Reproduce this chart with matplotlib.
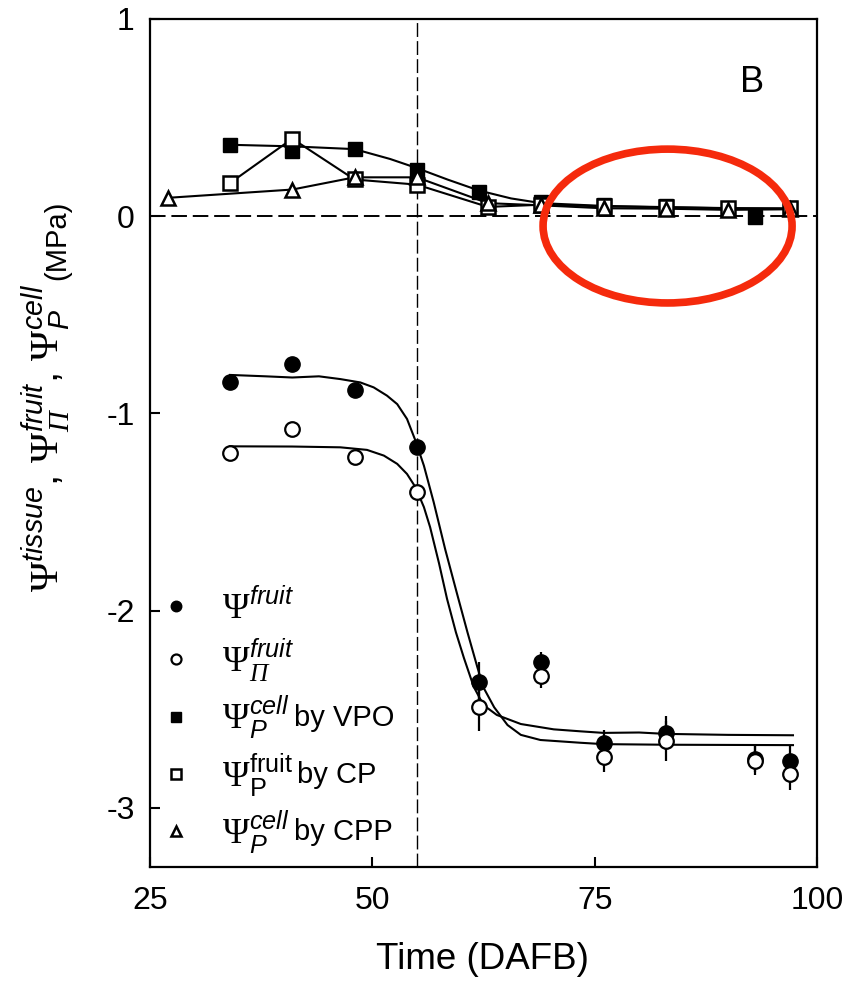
import numpy as np
import matplotlib
matplotlib.use("Agg")
import matplotlib.pyplot as plt
from matplotlib.lines import Line2D
from matplotlib.patches import Ellipse

plt.rcParams['font.family'] = ['Liberation Sans', 'DejaVu Sans']
plt.rcParams['mathtext.fontset'] = 'custom'
plt.rcParams['mathtext.rm'] = 'Liberation Serif'
plt.rcParams['mathtext.it'] = 'Liberation Sans:italic'
plt.rcParams['mathtext.sf'] = 'Liberation Sans'
plt.rcParams['mathtext.cal'] = 'Liberation Serif:italic'
plt.rcParams['axes.unicode_minus'] = False

# water potential of whole fruit and osmotic potential (circles)
days_fruit = [34, 41, 48, 55, 62, 69, 76, 83, 93, 97]
psi_fruit = [-0.84, -0.75, -0.88, -1.17, -2.36, -2.26, -2.67, -2.62, -2.75, -2.76]
psi_fruit_err = [0, 0, 0, 0, 0.10, 0.05, 0.065, 0.085, 0.07, 0.08]
psi_pi = [-1.20, -1.08, -1.22, -1.40, -2.49, -2.33, -2.74, -2.66, -2.76, -2.83]
psi_pi_err = [0, 0, 0, 0, 0.12, 0.06, 0.08, 0.10, 0.075, 0.08]

# fitted curves
fit_fruit_x = [34, 38, 41, 44, 46.4, 48.65, 50.15, 51.65, 52.8, 53.9, 54.85, 55.8,
               56.9, 58.2, 59.5, 60.7, 61.8, 62.5, 63.7, 65.2, 66.7, 68.9, 73.4,
               76, 83, 90, 97.3]
fit_fruit_y = [-0.805, -0.812, -0.818, -0.812, -0.826, -0.843, -0.868, -0.91, -0.953,
               -1.028, -1.138, -1.265, -1.45, -1.69, -1.91, -2.11, -2.285, -2.39,
               -2.49, -2.58, -2.63, -2.656, -2.67, -2.677, -2.68, -2.681, -2.682]
fit_pi_x = [34, 41, 46.4, 49.4, 51.3, 52.8, 53.9, 54.85, 55.8, 56.5, 57.5, 58.4,
            59.4, 60.3, 61.4, 62.5, 64, 66.7, 70.4, 73.4, 76, 80, 83, 90, 97.3]
fit_pi_y = [-1.167, -1.168, -1.172, -1.185, -1.214, -1.256, -1.307, -1.374, -1.475,
            -1.577, -1.76, -1.94, -2.11, -2.24, -2.386, -2.479, -2.529, -2.575,
            -2.602, -2.612, -2.62, -2.618, -2.625, -2.63, -2.632]

# turgor pressure series (squares / triangles)
days_vpo = [34, 41, 48, 55, 62, 69, 76, 83, 93, 97]
psi_vpo = [0.362, 0.329, 0.341, 0.236, 0.124, 0.073, 0.059, 0.053, -0.004, 0.039]
line_vpo_x = [34, 41, 48, 52, 55, 58.5, 62, 65.6, 69, 76, 83, 90, 97]
line_vpo_y = [0.362, 0.354, 0.34, 0.29, 0.244, 0.185, 0.13, 0.09, 0.066, 0.052,
              0.046, 0.041, 0.037]
days_cp = [34, 41, 48, 55, 63, 69, 76, 83, 90, 97]
psi_cp = [0.168, 0.393, 0.186, 0.16, 0.047, 0.058, 0.05, 0.045, 0.04, 0.04]
days_cpp = [27, 41, 48, 55, 63, 69, 76, 83, 90, 97]
psi_cpp = [0.093, 0.135, 0.197, 0.197, 0.066, 0.055, 0.04, 0.038, 0.032, 0.035]

legend_math = [r'$\Psi^{\mathit{fruit}}$',
               r'$\Psi_{\mathcal{\Pi}}^{\mathit{fruit}}$',
               r'$\Psi_{\mathit{P}}^{\mathit{cell}}$',
               r'$\Psi_{\mathsf{P}}^{\mathsf{fruit}}$',
               r'$\Psi_{\mathit{P}}^{\mathit{cell}}$']
legend_suffix = ['', '', 'by VPO', 'by CP', 'by CPP']

fig = plt.figure(figsize=(8.58, 9.82), dpi=100)
ax = fig.add_axes([0.1748, 0.1171, 0.7774, 0.8636])

lw = 1.5
ax.axhline(0, color='black', lw=1.4, dashes=(8, 3), zorder=1)
ax.axvline(55, color='black', lw=1.0, dashes=(10, 3), zorder=1)

ax.plot(fit_fruit_x, fit_fruit_y, color='black', lw=lw, zorder=2)
ax.plot(fit_pi_x, fit_pi_y, color='black', lw=lw, zorder=2)
ax.errorbar(days_fruit, psi_fruit, yerr=psi_fruit_err, fmt='o', ms=11, color='black',
            elinewidth=1.6, capsize=0, zorder=3)
ax.errorbar(days_fruit, psi_pi, yerr=psi_pi_err, fmt='o', ms=10.5, mfc='white', mec='black',
            mew=1.6, ecolor='black', elinewidth=1.6, capsize=0, zorder=4)

ax.plot(line_vpo_x, line_vpo_y, color='black', lw=lw, zorder=2)
ax.plot(days_cp, psi_cp, color='black', lw=lw, zorder=2)
ax.plot(days_cpp, psi_cpp, color='black', lw=lw, zorder=2)
ax.plot(days_vpo, psi_vpo, 's', ms=9.5, color='black', zorder=5)
ax.plot(days_cp, psi_cp, 's', ms=9.5, mfc='white', mec='black', mew=1.8, zorder=6)
ax.plot(days_cpp, psi_cpp, '^', ms=10.5, mfc='white', mec='black', mew=1.8, zorder=7)

# red highlight ellipse
ax.add_patch(Ellipse((83.2, -0.05), 28.0, 0.78, fill=False, edgecolor='#f52a0c',
                     lw=5.5, zorder=8, clip_on=False))

ax.text(0.9025, 0.9245, 'B', transform=ax.transAxes, fontsize=26, ha='center', va='center')

handles = [Line2D([], [], ls='none', marker='o', color='black', ms=10.5),
           Line2D([], [], ls='none', marker='o', mfc='white', mec='black', mew=1.6, ms=10),
           Line2D([], [], ls='none', marker='s', color='black', ms=9.5),
           Line2D([], [], ls='none', marker='s', mfc='white', mec='black', mew=1.8, ms=9.5),
           Line2D([], [], ls='none', marker='^', mfc='white', mec='black', mew=1.8, ms=10.5)]
leg = ax.legend(handles, legend_math, loc='center left', bbox_to_anchor=(0.0129, 0.17),
                frameon=False, fontsize=26, markerscale=0.72, handlelength=0.96,
                handletextpad=0.8, borderpad=0, borderaxespad=0, labelspacing=0.28)
# plain "by ..." part of the entries, smaller than the symbols
for t, suf in zip(leg.get_texts(), legend_suffix):
    if suf:
        ax.annotate(suf, xy=(1, 0.5), xycoords=t, xytext=(3, 0), textcoords='offset points',
                    ha='left', va='center', fontsize=21, zorder=10)

ax.set_xlim(25, 100)
ax.set_ylim(-3.3, 1)
ax.set_xticks([25, 50, 75, 100])
ax.set_yticks([1, 0, -1, -2, -3])
ax.tick_params(direction='in', length=7, width=1.5, labelsize=23)
ax.tick_params(axis='x', pad=14)
ax.tick_params(axis='y', pad=11)
for s in ax.spines.values():
    s.set_linewidth(1.6)

ax.set_xlabel('Time (DAFB)', fontsize=26.5)
ax.xaxis.set_label_coords(0.499, -0.088)

# y label: large symbols, normal-size unit
ylab = ax.text(-0.156, 0.3243,
               r'$\Psi^{\mathit{tissue}}$, $\Psi_{\mathcal{\Pi}}^{\mathit{fruit}}$, '
               r'$\Psi_{\mathit{P}}^{\mathit{cell}}$',
               transform=ax.transAxes, rotation=90, ha='center', va='bottom', fontsize=29.5)
ax.annotate('(MPa)', xy=(-0.139, 1.0), xycoords=('axes fraction', ylab), xytext=(0, 3),
            textcoords='offset points', rotation=90, ha='center', va='bottom', fontsize=21)

fig.savefig('out.png', dpi=100)
